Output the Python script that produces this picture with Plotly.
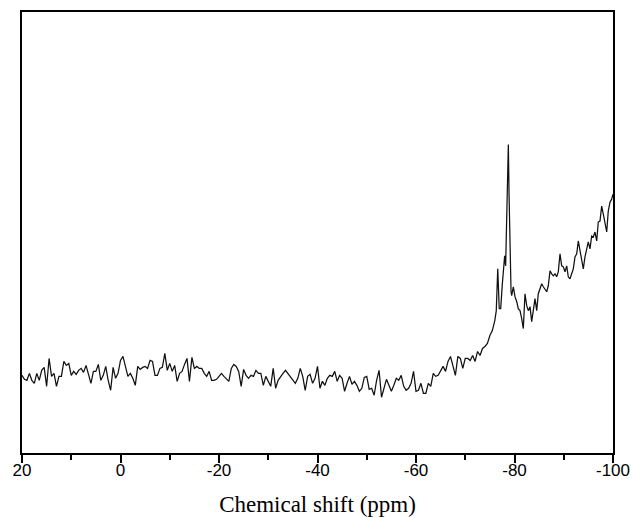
import plotly.graph_objects as go

# --- data (ppm, relative intensity) ---
ppm_seg1 = [20, 19.5, 19, 18.5, 18, 17.5, 17, 16.5, 16, 15.5, 15, 14.5, 14, 13.5, 13, 12.5, 12, 11.5, 11, 10.5,
            10, 9.5, 9, 8.5, 8, 7.5, 7, 6.5, 6, 5.5, 5, 4.5, 4, 3.5, 3, 2.5, 2, 1.5, 1, 0.5]
int_seg1 = [75, 71, 70, 77, 70, 67, 77, 70, 80, 83, 64, 92, 74, 77, 64, 74, 74, 89, 85, 87,
            75, 79, 76, 80, 82, 78, 85, 77, 67, 79, 79, 86, 70, 75, 84, 70, 60, 83, 72, 77]

ppm_seg2 = [0, -0.5, -1, -1.5, -2, -2.5, -3, -3.5, -4, -4.5, -5, -5.5, -6, -6.5, -7, -7.5, -8, -8.5, -9, -9.5,
            -10, -10.5, -11, -11.5, -12, -12.5, -13, -13.5, -14, -14.5, -15, -15.5, -16, -16.5, -17, -17.5,
            -18, -18.5, -19, -19.5]
int_seg2 = [90, 94, 85, 74, 77, 72, 65, 84, 81, 83, 84, 82, 90, 89, 75, 75, 82, 83, 97, 80,
            87, 79, 85, 69, 77, 79, 86, 92, 69, 93, 82, 84, 82, 82, 77, 74, 79, 70, 70, 71]

ppm_seg3 = [-20, -20.5, -21, -21.5, -22, -22.5, -23, -23.5, -24, -24.5, -25, -25.5, -26, -26.5, -27, -27.5,
            -28, -28.5, -29, -29.5, -30, -30.5, -31, -31.5, -32, -32.5, -33, -33.5, -34, -34.5, -35, -35.5,
            -36, -36.5, -37, -37.5, -38, -38.5, -39, -39.5]
int_seg3 = [74, 77, 74, 71, 69, 82, 86, 84, 79, 64, 81, 75, 72, 75, 74, 80, 77, 77, 65, 74,
            69, 64, 82, 62, 70, 74, 77, 80, 77, 74, 71, 67, 72, 82, 74, 60, 74, 76, 67, 72]

ppm_seg4 = [-40, -40.5, -41, -41.5, -42, -42.5, -43, -43.5, -44, -44.5, -45, -45.5, -46, -46.5, -47, -47.5,
            -48, -48.5, -49, -49.5, -50, -50.5, -51, -51.5, -52, -52.5, -53, -53.5, -54, -54.5, -55, -55.5,
            -56, -56.5, -57, -57.5, -58, -58.5, -59, -59.5]
int_seg4 = [84, 62, 69, 65, 72, 75, 74, 79, 69, 75, 72, 59, 67, 74, 66, 69, 65, 59, 62, 73,
            74, 61, 62, 55, 70, 80, 53, 62, 71, 65, 59, 65, 72, 70, 75, 64, 60, 62, 67, 79]

ppm_seg5 = [-60, -60.5, -61, -61.5, -62, -62.5, -63, -63.5, -64, -64.5, -65, -65.5, -66, -66.5, -67, -67.5,
            -68, -68.5, -69, -69.5, -70, -70.5, -71, -71.5, -72, -72.5, -73, -73.5, -74, -74.5, -75, -75.5,
            -76, -76.3, -76.6, -76.9, -77.2, -77.5, -77.8, -78, -78.2, -78.4, -78.6, -78.75, -78.9, -79.1, -79.3]
int_seg5 = [59, 60, 67, 57, 57, 67, 64, 77, 74, 75, 80, 84, 79, 89, 94, 84, 75, 94, 92, 82,
            92, 92, 90, 95, 89, 99, 95, 102, 104, 107, 115, 120, 130, 140, 182, 142, 142, 165, 179, 195,
            185, 239, 289, 307, 255, 182, 159]

ppm_seg6 = [-79.43, -79.76, -80.10, -80.45, -80.77, -81.12, -81.46, -81.79, -82.13, -82.48, -82.80, -83.15,
            -83.49, -83.82, -84.16, -84.51, -84.83, -85.18, -85.52, -85.85, -86.19, -86.54, -86.86, -87.21,
            -87.55, -87.88, -88.22, -88.57, -88.89, -89.24, -89.58, -89.91, -90.25, -90.60, -90.92, -91.27,
            -91.61, -91.94, -92.28, -92.63, -92.95, -93.30, -93.64, -93.97, -94.31, -94.66, -94.98, -95.33,
            -95.67, -96.00, -96.34, -96.69, -97.01, -97.36, -97.70, -98.03, -98.37, -98.72, -99.04, -99.39,
            -99.73, -100.0]
int_seg6 = [155, 164, 154, 149, 142, 140, 132, 122, 157, 145, 140, 144,
            129, 139, 152, 140, 157, 162, 167, 164, 162, 159, 165, 180,
            177, 175, 177, 174, 179, 197, 185, 184, 179, 185, 174, 172,
            177, 182, 194, 197, 210, 200, 192, 182, 194, 204, 209, 202,
            215, 214, 219, 210, 229, 230, 245, 237, 229, 219, 240, 249,
            252, 257]

tick_vals = [20, 0, -20, -40, -60, -80, -100]
tick_text = ["20", "0", "-20", "-40", "-60", "-80", "-100"]
minor_vals = [10, -10, -30, -50, -70, -90]
x_title = "Chemical shift (ppm)"

ppm = ppm_seg1 + ppm_seg2 + ppm_seg3 + ppm_seg4 + ppm_seg5 + ppm_seg6
intensity = int_seg1 + int_seg2 + int_seg3 + int_seg4 + int_seg5 + int_seg6

fig = go.Figure()
fig.add_trace(go.Scatter(x=ppm, y=intensity, mode="lines",
                         line=dict(color="#111111", width=1.25), showlegend=False,
                         hoverinfo="skip"))

fig.update_layout(
    width=633, height=518,
    margin=dict(l=22, r=20, t=12, b=65),
    paper_bgcolor="white", plot_bgcolor="white",
    xaxis=dict(
        range=[20, -100], tickmode="array", tickvals=tick_vals, ticktext=tick_text,
        ticks="outside", ticklen=8, tickwidth=1.5, tickcolor="black",
        ticklabelstandoff=-7,
        showline=True, linecolor="black", linewidth=1.5, mirror=True,
        showgrid=False, zeroline=False, automargin=False,
        tickfont=dict(family="Liberation Sans, Arial", size=17, color="black"),
        title=dict(text=x_title, font=dict(family="Liberation Serif, Times New Roman", size=23, color="black"),
                   standoff=17),
        minor=dict(tickvals=minor_vals, ticks="outside", ticklen=5,
                   tickwidth=1.5, tickcolor="black", showgrid=False),
    ),
    yaxis=dict(
        range=[-3, 440], showticklabels=False, ticks="",
        showline=True, linecolor="black", linewidth=1.5, mirror=True,
        showgrid=False, zeroline=False, automargin=False,
    ),
)

fig.write_html("out.html", config={"displayModeBar": False},
               post_script="document.body.style.margin='0px';")
